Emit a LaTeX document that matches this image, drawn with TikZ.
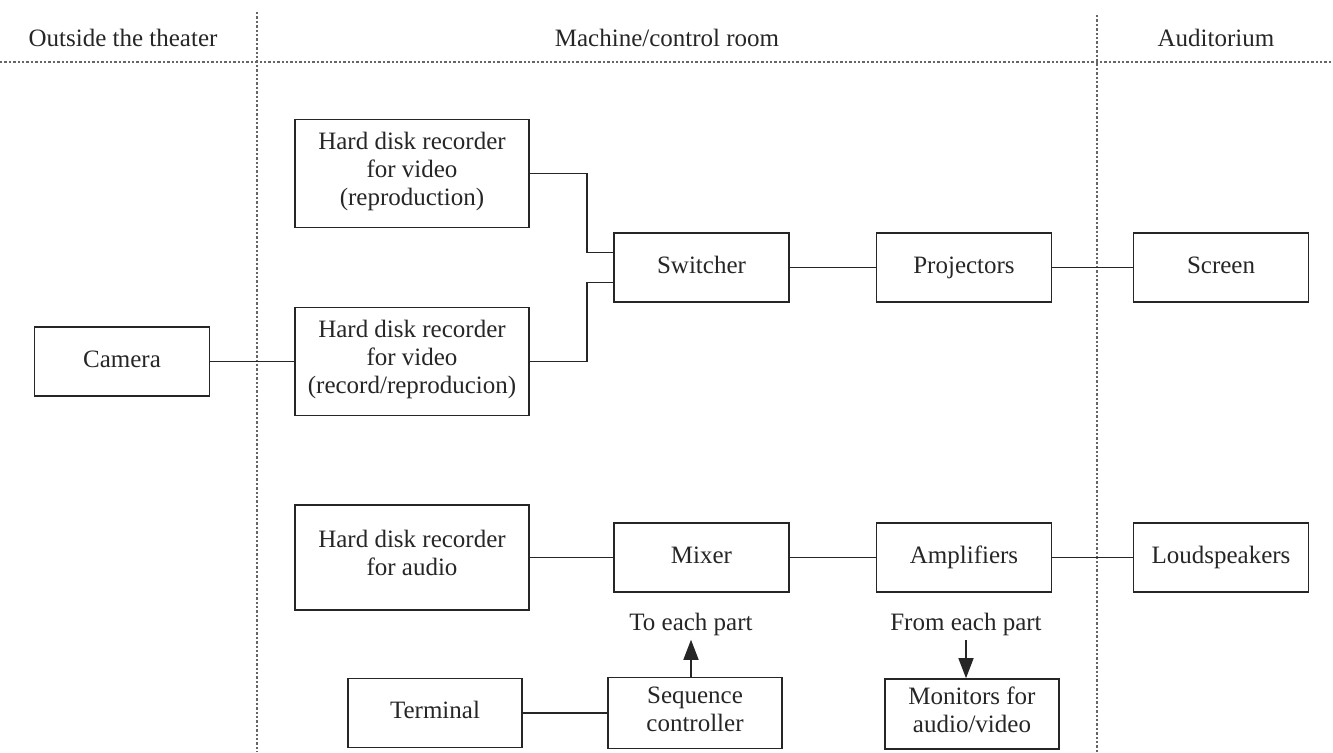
\documentclass[tikz,border=0pt]{standalone}
\usepackage{fontspec}
\setmainfont{Liberation Serif}
\usetikzlibrary{arrows.meta, positioning}

\begin{document}
\begin{tikzpicture}[
  x=0.5pt, y=-0.5pt,
  font=\fontsize{12.5pt}{14pt}\selectfont,
  box/.style={draw=black!85, line width=0.8pt, align=center, inner sep=2pt,
              text=black!85, minimum width=87.5pt, minimum height=34.5pt,
              execute at begin node=\strut, execute at end node=\strut},
  wide/.style={box, minimum width=117pt, minimum height=54pt},
  wire/.style={draw=black!85, line width=0.75pt},
  arr/.style={wire, -{Triangle[length=10pt, width=7.5pt]}},
  divider/.style={draw=black!60, line width=1.2pt, densely dotted},
  zone/.style={text=black!85, inner sep=0pt}
]
\useasboundingbox (0,0) rectangle (1333,752);

% zones
\draw[divider] (0,62) -- (1331,62);
\draw[divider] (257,12) -- (257,752);
\draw[divider] (1097,15) -- (1097,752);
\node[zone] (outside) at (123,38) {Outside the theater};
\node[zone] (machine) at (667,38) {Machine/control room};
\node[zone] (audi) at (1216,38) {Auditorium};

% video chain
\node[box] (cam) at (122,361.5) {Camera};
\node[wide] (hdr1) at (412,173.5) {Hard disk recorder\\for video\\(reproduction)};
\node[wide] (hdr2) at (412,361.5) {Hard disk recorder\\for video\\(record/reproducion)};
\node[box] (sw) at (701.5,267.5) {Switcher};
\node[box] (proj) at (964,267.5) {Projectors};
\node[box] (scr) at (1221,267.5) {Screen};

% audio chain
\node[wide, minimum height=52.5pt] (hdra) at (412,557.5) {Hard disk recorder\\for audio};
\node[box] (mix) at (701.5,557.5) {Mixer};
\node[box] (amp) at (964,557.5) {Amplifiers};
\node[box] (spk) at (1221,557.5) {Loudspeakers};

% control
\node[box, minimum width=87pt] (term) at (435,713) {Terminal};
\node[box, minimum width=87pt, minimum height=35.5pt] (seq) at (695,713) {Sequence\\controller};
\node[box, minimum width=87pt, minimum height=35pt] (mon) at (972,714) {Monitors for\\audio/video};
\node[zone, inner sep=2pt] (toall) at (691,624) {To each part};
\node[zone, inner sep=2pt] (fromall) at (966,624) {From each part};

\draw[wire] (cam) -- (hdr2);
\draw[wire] (hdr1.east) -- ++(57,0) |- ([yshift=7.5pt]sw.west);
\draw[wire] (hdr2.east) -- ++(57,0) |- ([yshift=-7.5pt]sw.west);
\draw[wire] (sw) -- (proj);
\draw[wire] (proj) -- (scr);
\draw[wire] (hdra) -- (mix);
\draw[wire] (mix) -- (amp);
\draw[wire] (amp) -- (spk);
\draw[wire] (term) -- (seq);
\draw[arr] ([xshift=-2pt]seq.north) -- ([xshift=-2pt]seq.north |- toall.south);
\draw[arr] (fromall.south) -- (fromall.south |- mon.north);
\end{tikzpicture}
\end{document}
